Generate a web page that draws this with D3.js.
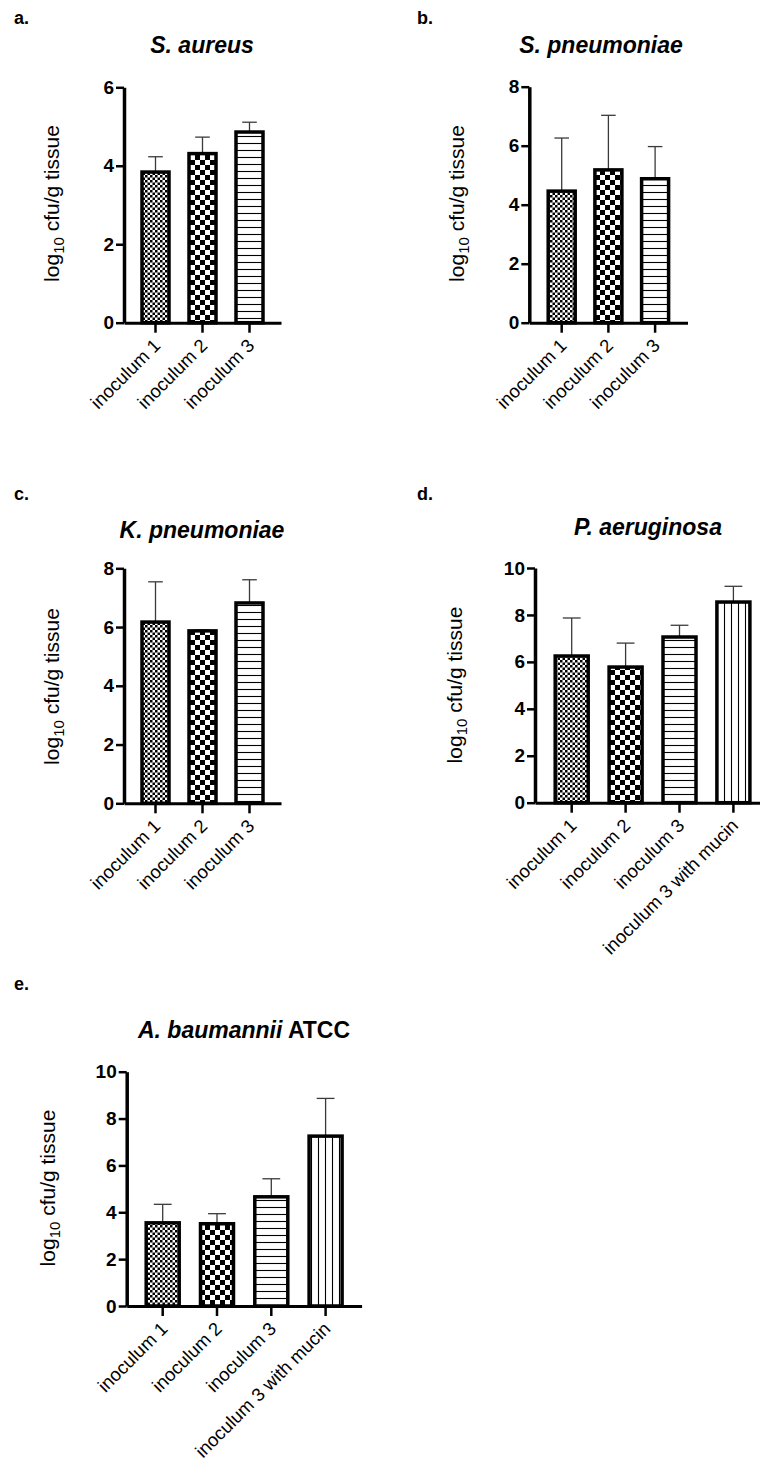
<!DOCTYPE html>
<html>
<head>
<meta charset="utf-8">
<script src="https://cdn.jsdelivr.net/npm/d3@7"></script>
<style>
  body { margin: 0; background: #fff; }
  svg { display: block; }
  text { font-family: "Liberation Sans", Arial, sans-serif; fill: #000; }
</style>
</head>
<body>
<svg width="760" height="1466"></svg>
<script>
// categories
const cats3 = ["inoculum 1", "inoculum 2", "inoculum 3"];
const cats4 = ["inoculum 1", "inoculum 2", "inoculum 3", "inoculum 3 with mucin"];

// mean log10 cfu/g and upper error (SD) per organism
const aureusMean = [3.84, 4.31, 4.86];
const aureusSD = [0.39, 0.42, 0.25];
const spneuMean = [4.46, 5.18, 4.88];
const spneuSD = [1.80, 1.85, 1.09];
const kpneuMean = [6.17, 5.87, 6.82];
const kpneuSD = [1.37, 0.03, 0.79];
const paerMean = [6.25, 5.78, 7.06, 8.55];
const paerSD = [1.62, 1.02, 0.50, 0.67];
const abauMean = [3.55, 3.51, 4.66, 7.25];
const abauSD = [0.79, 0.43, 0.77, 1.61];

const ticks6 = [0, 2, 4, 6];
const ticks8 = [0, 2, 4, 6, 8];
const ticks10 = [0, 2, 4, 6, 8, 10];

const patterns = ["fine", "check", "hlines", "vlines"];

const svg = d3.select("svg");
svg.append("rect").attr("width", 760).attr("height", 1466).attr("fill", "#fff");

// fill patterns
const defs = svg.append("defs");
let p = defs.append("pattern").attr("id", "fine").attr("patternUnits", "userSpaceOnUse")
  .attr("width", 5).attr("height", 5);
p.append("rect").attr("width", 5).attr("height", 5).attr("fill", "#fff");
p.append("rect").attr("width", 2.5).attr("height", 2.5).attr("fill", "#000");
p.append("rect").attr("x", 2.5).attr("y", 2.5).attr("width", 2.5).attr("height", 2.5).attr("fill", "#000");

p = defs.append("pattern").attr("id", "check").attr("patternUnits", "userSpaceOnUse")
  .attr("width", 10).attr("height", 10);
p.append("rect").attr("width", 10).attr("height", 10).attr("fill", "#fff");
p.append("rect").attr("width", 5).attr("height", 5).attr("fill", "#000");
p.append("rect").attr("x", 5).attr("y", 5).attr("width", 5).attr("height", 5).attr("fill", "#000");

p = defs.append("pattern").attr("id", "hlines").attr("patternUnits", "userSpaceOnUse")
  .attr("width", 10).attr("height", 7);
p.append("rect").attr("width", 10).attr("height", 7).attr("fill", "#fff");
p.append("line").attr("x1", 0).attr("x2", 10).attr("y1", 3.5).attr("y2", 3.5)
  .attr("stroke", "#000").attr("stroke-width", 1.1);

p = defs.append("pattern").attr("id", "vlines").attr("patternUnits", "userSpaceOnUse")
  .attr("width", 7).attr("height", 10);
p.append("rect").attr("width", 7).attr("height", 10).attr("fill", "#fff");
p.append("line").attr("y1", 0).attr("y2", 10).attr("x1", 3.5).attr("x2", 3.5)
  .attr("stroke", "#000").attr("stroke-width", 1.1);

const panels = [
  { letter: "a.", lx: 14, ly: 24, title: ["S. aureus"], tx: 202, ty: 53,
    cats: cats3, mean: aureusMean, sd: aureusSD, max: 6, ticks: ticks6,
    x0: 124, off: 31.5, step: 47, bw: 27, y0: 322.7, yTop: 87.3, labX: 59, labY: 203.5 },
  { letter: "b.", lx: 417, ly: 24, title: ["S. pneumoniae"], tx: 601, ty: 53,
    cats: cats3, mean: spneuMean, sd: spneuSD, max: 8, ticks: ticks8,
    x0: 529.3, off: 32.4, step: 46.7, bw: 27, y0: 322.7, yTop: 86.7, labX: 464, labY: 203.5 },
  { letter: "c.", lx: 14, ly: 500, title: ["K. pneumoniae"], tx: 202, ty: 538,
    cats: cats3, mean: kpneuMean, sd: kpneuSD, max: 8, ticks: ticks8,
    x0: 124, off: 31.5, step: 47, bw: 27, y0: 803.3, yTop: 568.3, labX: 59, labY: 686.5 },
  { letter: "d.", lx: 417, ly: 500, title: ["P. aeruginosa"], tx: 648, ty: 535,
    cats: cats4, mean: paerMean, sd: paerSD, max: 10, ticks: ticks10,
    x0: 535, off: 36.7, step: 53.9, bw: 33, y0: 802.7, yTop: 568, labX: 462, labY: 685 },
  { letter: "e.", lx: 14, ly: 990, title: ["A. baumannii", " ATCC"], tx: 244, ty: 1038,
    cats: cats4, mean: abauMean, sd: abauSD, max: 10, ticks: ticks10,
    x0: 126.7, off: 36, step: 54.3, bw: 33, y0: 1306, yTop: 1071.7, labX: 55, labY: 1188 }
];

panels.forEach(function (c) {
  const g = svg.append("g");
  const n = c.cats.length;
  const len = 2 * c.off + (n - 1) * c.step;
  const pi = 1 - c.bw / c.step;
  const po = (len / c.step - n + pi) / 2;

  const x = d3.scaleBand().domain(c.cats).range([c.x0, c.x0 + len])
    .paddingInner(pi).paddingOuter(po);
  const y = d3.scaleLinear().domain([0, c.max]).range([c.y0, c.yTop]);

  const rows = c.cats.map((k, i) => ({ cat: k, mean: c.mean[i], sd: c.sd[i], pat: patterns[i] }));

  // error bars (upper only)
  const err = g.selectAll(".err").data(rows).enter().append("g")
    .attr("stroke", "#3a3a3a").attr("stroke-width", 1.3);
  err.append("line")
    .attr("x1", (d) => x(d.cat) + x.bandwidth() / 2)
    .attr("x2", (d) => x(d.cat) + x.bandwidth() / 2)
    .attr("y1", (d) => y(d.mean))
    .attr("y2", (d) => y(d.mean + d.sd));
  err.append("line")
    .attr("x1", (d) => x(d.cat) + x.bandwidth() / 2 - x.bandwidth() * 0.27)
    .attr("x2", (d) => x(d.cat) + x.bandwidth() / 2 + x.bandwidth() * 0.27)
    .attr("y1", (d) => y(d.mean + d.sd))
    .attr("y2", (d) => y(d.mean + d.sd));

  // bars
  g.selectAll(".bar").data(rows).enter().append("rect")
    .attr("x", (d) => x(d.cat))
    .attr("y", (d) => y(d.mean))
    .attr("width", x.bandwidth())
    .attr("height", (d) => y(0) - y(d.mean))
    .attr("fill", (d) => "url(#" + d.pat + ")")
    .attr("stroke", "#000")
    .attr("stroke-width", 3.5);

  // y axis
  const ya = g.append("g").attr("transform", "translate(" + c.x0 + ",0)")
    .call(d3.axisLeft(y).tickValues(c.ticks).tickFormat(d3.format("d"))
      .tickSize(8).tickSizeOuter(0).tickPadding(2));
  ya.select(".domain").attr("stroke-width", 3.5);
  ya.selectAll(".tick line").attr("stroke-width", 2.5);
  ya.selectAll(".tick text").attr("font-size", 19).attr("font-weight", "bold")
    .attr("font-family", "Liberation Sans, Arial, sans-serif");

  // x axis
  const xa = g.append("g").attr("transform", "translate(0," + c.y0 + ")")
    .call(d3.axisBottom(x).tickSize(10).tickSizeOuter(0));
  xa.select(".domain").attr("stroke-width", 3);
  xa.selectAll(".tick line").attr("stroke-width", 2.5);
  xa.selectAll(".tick text")
    .attr("font-size", 18.5)
    .attr("font-family", "Liberation Sans, Arial, sans-serif")
    .attr("text-anchor", "end")
    .attr("dy", null)
    .attr("y", null)
    .attr("transform", "translate(6,24) rotate(-45)");

  // y label
  const yl = g.append("text")
    .attr("transform", "translate(" + c.labX + "," + c.labY + ") rotate(-90)")
    .attr("text-anchor", "middle")
    .attr("font-size", 21);
  yl.append("tspan").text("log");
  yl.append("tspan").attr("font-size", 15).attr("dy", 5).text("10");
  yl.append("tspan").attr("dy", -5).text(" cfu/g tissue");

  // title
  const t = g.append("text").attr("x", c.tx).attr("y", c.ty)
    .attr("text-anchor", "middle").attr("font-size", 23).attr("font-weight", "bold");
  t.append("tspan").attr("font-style", "italic").text(c.title[0]);
  if (c.title[1]) t.append("tspan").text(c.title[1]);

  // panel letter
  g.append("text").attr("x", c.lx).attr("y", c.ly)
    .attr("font-family", "Open Sans, sans-serif")
    .attr("font-size", 18).attr("font-weight", "bold").text(c.letter);
});
</script>
</body>
</html>
